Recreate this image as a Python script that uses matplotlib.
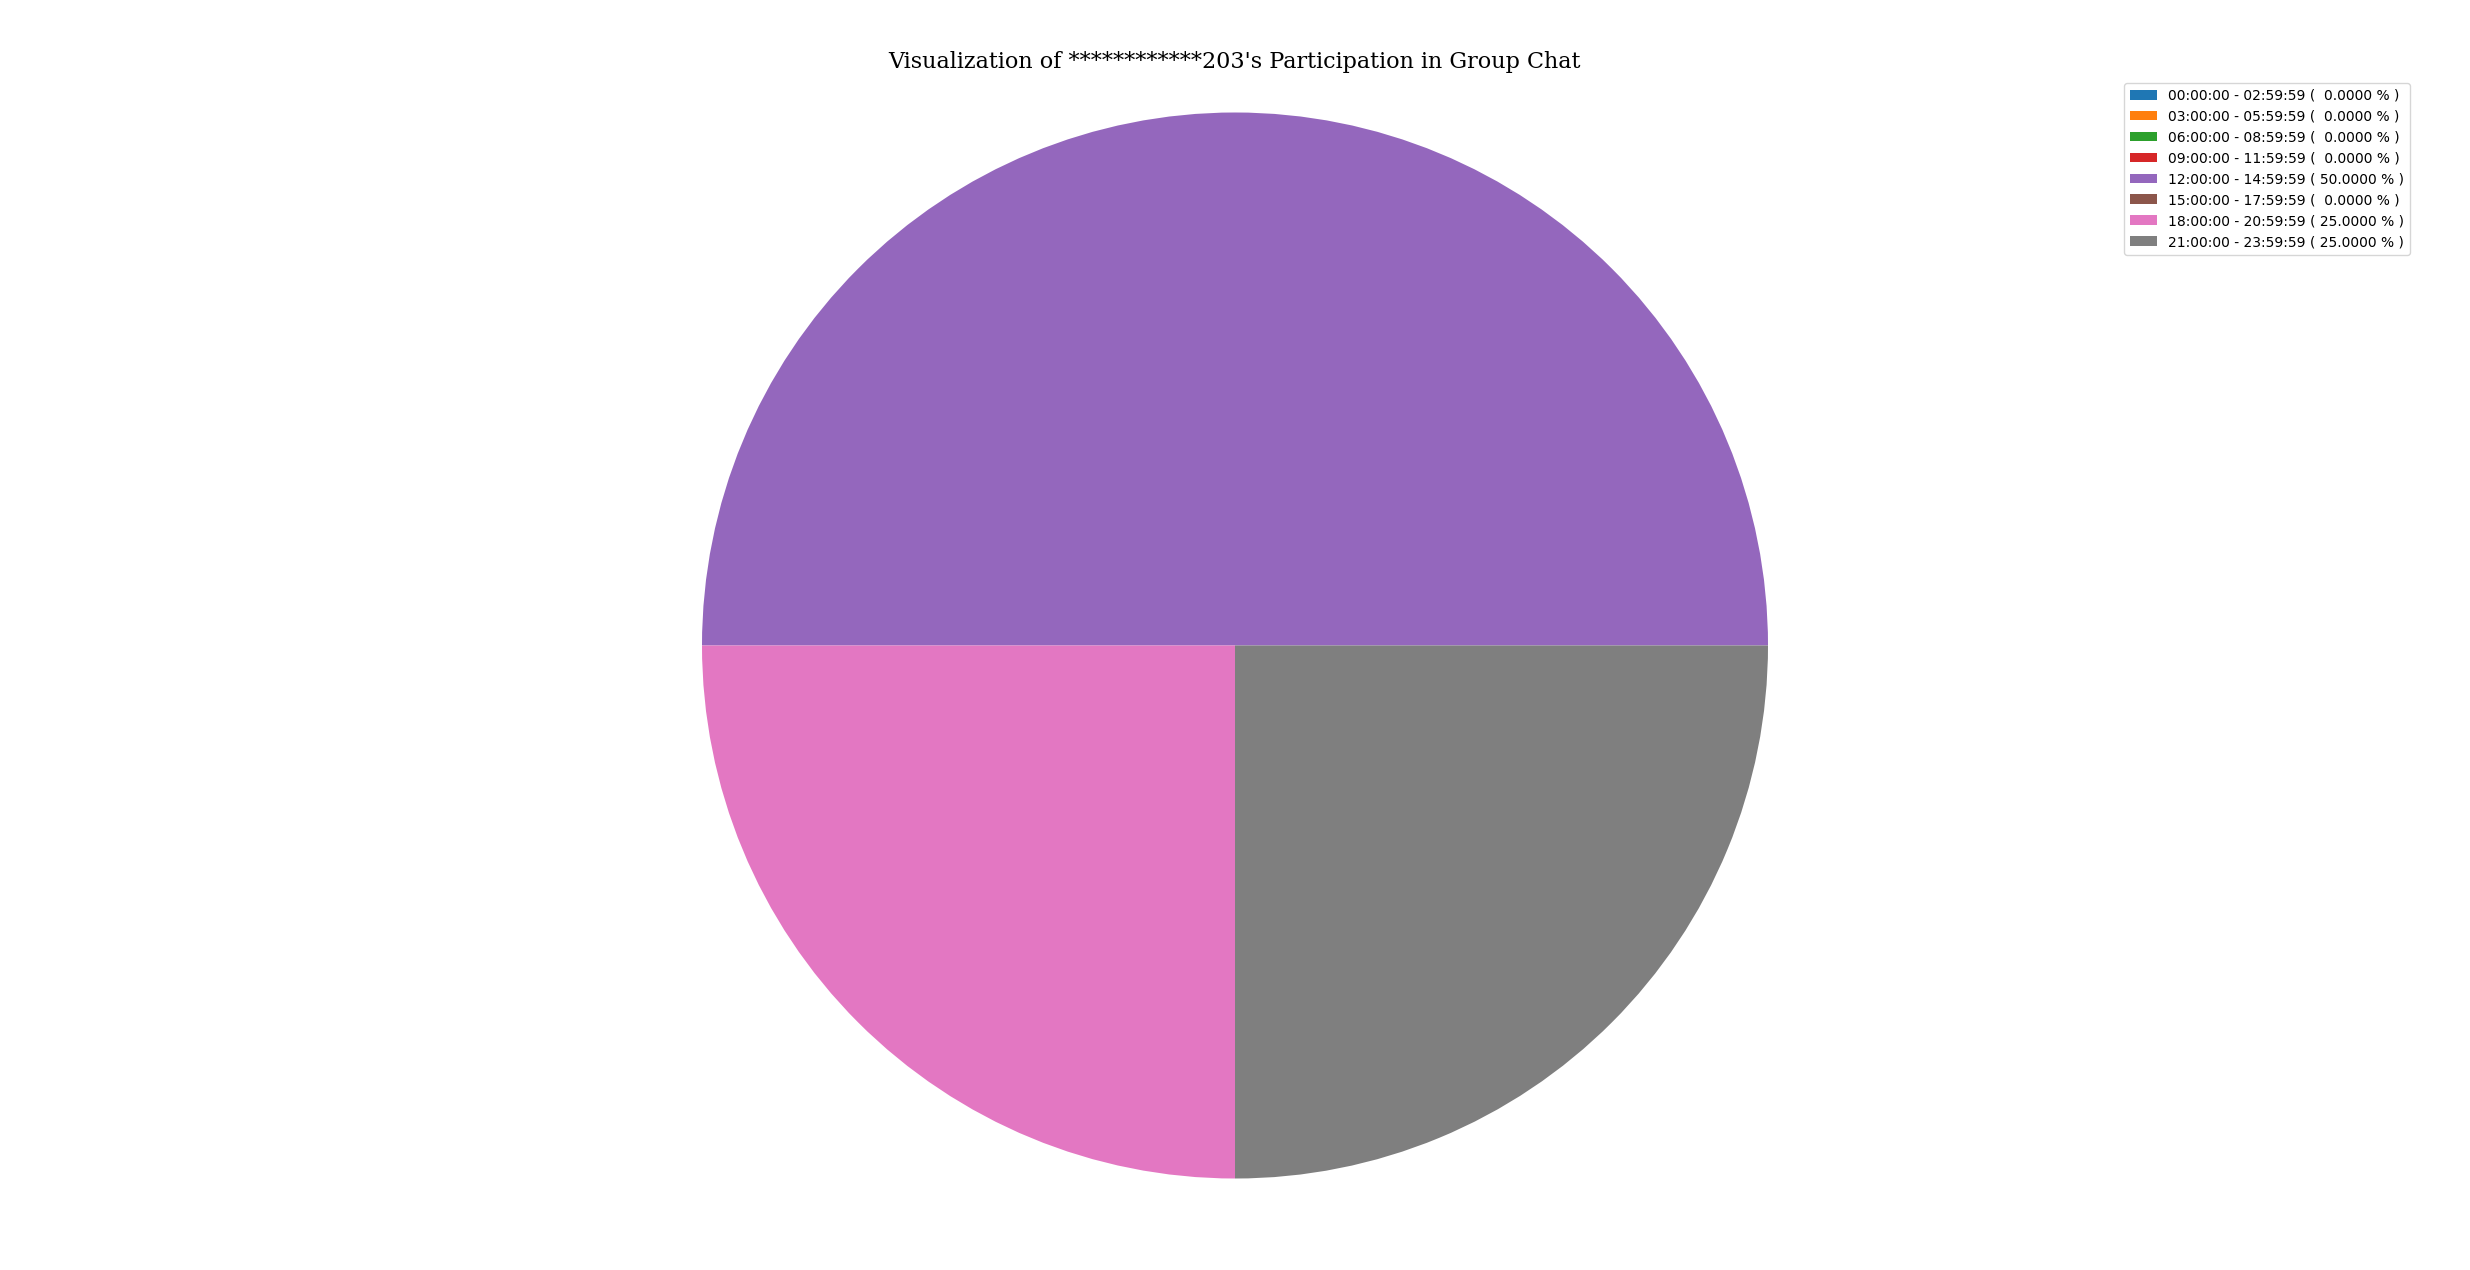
import matplotlib
matplotlib.use("Agg")
import matplotlib.pyplot as plt

labels = ["00:00:00 - 02:59:59", "03:00:00 - 05:59:59", "06:00:00 - 08:59:59",
          "09:00:00 - 11:59:59", "12:00:00 - 14:59:59", "15:00:00 - 17:59:59",
          "18:00:00 - 20:59:59", "21:00:00 - 23:59:59"]
values = [0, 0, 0, 0, 2, 0, 1, 1]
title = "Visualization of ************203's Participation in Group Chat"

total = sum(values)
percents = [v / total * 100 for v in values]
legend_labels = [f"{l} ( {p:7.4f} % )" for l, p in zip(labels, percents)]

W, H = 2470, 1270
fig = plt.figure(figsize=(W / 100, H / 100), dpi=100)
left, right, top, bottom = 53, 2417, 76, 1215
ax = fig.add_axes([left / W, 1 - bottom / H, (right - left) / W, (bottom - top) / H])

wedges, _ = ax.pie(values)
r = 533.0
ax.set_aspect("auto")
ax.set_xlim(-(right - left) / 2 / r, (right - left) / 2 / r)
cy = 645.5
ax.set_ylim(-(bottom - cy) / r, (cy - top) / r)
ax.set_title(title, family="DejaVu Serif", fontsize=16)
ax.legend(wedges, legend_labels, loc="upper right")

fig.savefig("out.png", dpi=100)
